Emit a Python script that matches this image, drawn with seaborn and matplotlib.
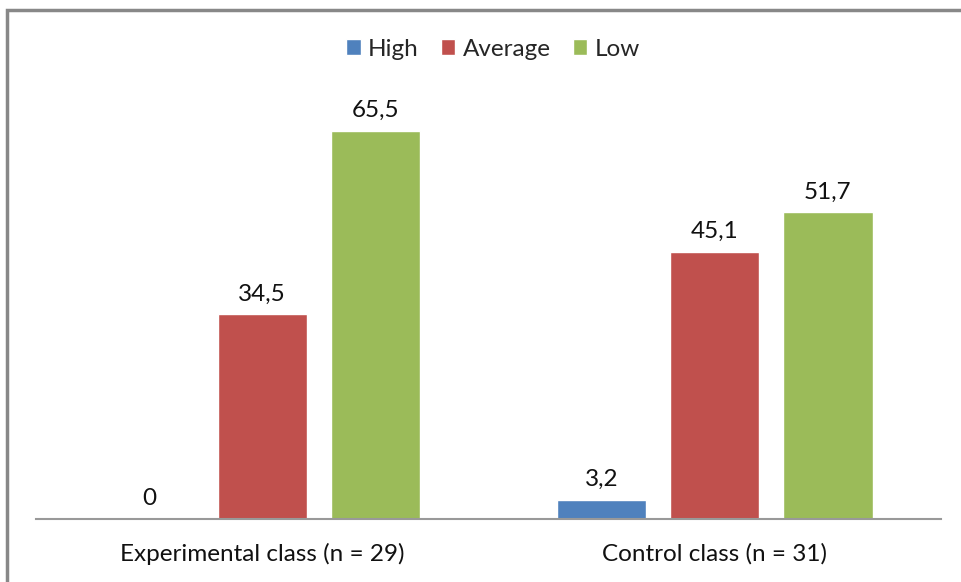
import seaborn as sns
import matplotlib.pyplot as plt
import pandas as pd
from matplotlib.patches import Patch, Rectangle

categories = ["Experimental class (n = 29)", "Control class (n = 31)"]
levels = ["High", "Average", "Low"]
high = [0, 3.2]
average = [34.5, 45.1]
low = [65.5, 51.7]
colors = ["#4F81BD", "#C0504D", "#9BBB59"]

rows = []
for lvl, vals in zip(levels, [high, average, low]):
    for cat, v in zip(categories, vals):
        rows.append({"group": cat, "level": lvl, "value": v})
df = pd.DataFrame(rows)

sns.set_style("white")
plt.rcParams["font.family"] = ["Lato", "DejaVu Sans"]

fig = plt.figure(figsize=(9.61, 5.82), dpi=100)
ax = fig.add_axes([36 / 961, 63 / 582, 905 / 961, 415 / 582])

sns.barplot(data=df, x="group", y="value", hue="level", order=categories,
            hue_order=levels, palette=colors, width=0.75, gap=0.21,
            saturation=1, ax=ax, legend=False)

for cont, vals in zip(ax.containers, [high, average, low]):
    ax.bar_label(cont, labels=[f"{v:g}".replace(".", ",") for v in vals],
                 padding=7, fontsize=17.5, color="#111111")

ax.set_ylim(0, 70)
ax.set_xlim(-0.5, 1.5)
ax.set_xlabel("")
ax.set_ylabel("")
ax.set_yticks([])
for s in ["top", "right", "left"]:
    ax.spines[s].set_visible(False)
ax.spines["bottom"].set_color("#999999")
ax.spines["bottom"].set_linewidth(1.5)
ax.tick_params(axis="x", length=0, pad=17, labelsize=17.5, labelcolor="#111111")

handles = [Patch(facecolor=c, label=l) for c, l in zip(colors, levels)]
fig.legend(handles=handles, loc="center", bbox_to_anchor=(493 / 961, 1 - 49 / 582),
           ncol=3, frameon=False, fontsize=17.5, handlelength=0.6,
           handleheight=0.6, handletextpad=0.3, columnspacing=0.9)

fig.patches.append(Rectangle((7 / 961, -0.05), 1.1, 1 - 10 / 582 + 0.05,
                             transform=fig.transFigure, fill=False,
                             edgecolor="#888888", linewidth=2.5))

fig.savefig("out.png", dpi=100)
